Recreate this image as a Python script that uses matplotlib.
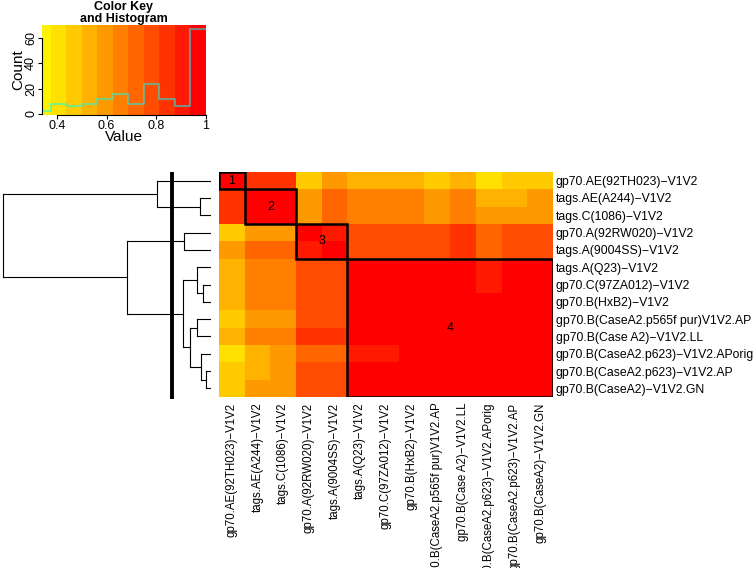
import numpy as np
import matplotlib
matplotlib.use('Agg')
import matplotlib.pyplot as plt
from matplotlib.colors import ListedColormap, BoundaryNorm
from matplotlib.patches import Rectangle

plt.rcParams['font.family'] = ['Liberation Sans', 'DejaVu Sans']

labels = ['gp70.AE(92TH023)\u2212V1V2',
          'tags.AE(A244)\u2212V1V2',
          'tags.C(1086)\u2212V1V2',
          'gp70.A(92RW020)\u2212V1V2',
          'tags.A(9004SS)\u2212V1V2',
          'tags.A(Q23)\u2212V1V2',
          'gp70.C(97ZA012)\u2212V1V2',
          'gp70.B(HxB2)\u2212V1V2',
          'gp70.B(CaseA2.p565f pur)V1V2.AP',
          'gp70.B(Case A2)\u2212V1V2.LL',
          'gp70.B(CaseA2.p623)\u2212V1V2.APorig',
          'gp70.B(CaseA2.p623)\u2212V1V2.AP',
          'gp70.B(CaseA2)\u2212V1V2.GN']

# similarity matrix (rows/cols in dendrogram order)
sim = np.array([
    [1.00, .84, .84, .47, .59, .53, .53, .53, .47, .53, .41, .47, .47],
    [.84, 1.00, .97, .60, .72, .66, .66, .66, .59, .66, .56, .55, .59],
    [.84, .97, 1.00, .60, .72, .66, .66, .66, .59, .66, .58, .59, .59],
    [.47, .60, .60, 1.00, .91, .78, .78, .78, .78, .84, .72, .78, .78],
    [.59, .72, .72, .91, 1.00, .78, .78, .78, .78, .84, .72, .78, .78],
    [.53, .66, .66, .78, .78, 1.00, .98, .97, .96, .97, .91, .97, .96],
    [.53, .66, .66, .78, .78, .98, 1.00, .99, .96, .97, .91, .97, .96],
    [.53, .66, .66, .78, .78, .97, .99, 1.00, .96, .97, .96, .97, .96],
    [.47, .59, .59, .78, .78, .96, .96, .96, 1.00, .98, .96, .96, .97],
    [.53, .66, .66, .84, .84, .97, .97, .97, .98, 1.00, .96, .97, .96],
    [.41, .56, .58, .72, .72, .91, .91, .96, .96, .96, 1.00, .97, .97],
    [.47, .55, .59, .78, .78, .97, .97, .97, .96, .97, .97, 1.00, .99],
    [.47, .59, .59, .78, .78, .96, .96, .96, .97, .96, .97, .99, 1.00]])

breaks = np.linspace(0.3125, 1.0, 12)
colors = ['#FFF200', '#FFE000', '#FFCA00', '#FFB200', '#FF9900', '#FF7F00',
          '#FF6600', '#FF4C00', '#FF3300', '#FF1900', '#FF0000']
hist_counts = [2, 8, 6, 8, 12, 16, 8, 24, 12, 6, 67]

# row dendrogram: (height, left, right)
tree = (1.0,
        (0.258, 0, (0.048, 1, 2)),
        (0.400, (0.124, 3, 4),
         (0.132, (0.061, 5, (0.035, 6, 7)),
          (0.097, (0.061, 8, 9), (0.045, 10, (0.021, 11, 12))))))
cut_height = 0.185
clusters = [1, 2, 2, 3, 3, 4, 4, 4, 4, 4, 4, 4, 4]

n = len(labels)
cmap = ListedColormap(colors).with_extremes(over=colors[-1], under=colors[0])
norm = BoundaryNorm(breaks, cmap.N)

fig = plt.figure(figsize=(7.54, 5.68), dpi=100)
W, H = 754.0, 568.0

# heatmap
ax = fig.add_axes([219 / W, 1 - 397 / H, 334 / W, 225 / H])
ax.imshow(sim, cmap=cmap, norm=norm, aspect='auto', interpolation='nearest')
for c in sorted(set(clusters)):
    idx = [i for i, k in enumerate(clusters) if k == c]
    lo, size = min(idx), len(idx)
    ax.add_patch(Rectangle((lo - 0.5, lo - 0.5), size, size, fill=False,
                           ec='black', lw=1.8))
    ax.text(lo - 0.5 + size / 2, lo - 0.5 + size / 2, str(c), ha='center',
            va='center', fontsize=9)
ax.set_xticks(range(n))
ax.set_xticklabels(labels, rotation=90, fontsize=8.3)
ax.yaxis.tick_right()
ax.set_yticks(range(n))
ax.set_yticklabels(labels, fontsize=8.8)
ax.tick_params(length=0)
ax.tick_params(axis='x', pad=4)
ax.tick_params(axis='y', pad=2)
for s in ax.spines.values():
    s.set_visible(False)

# dendrogram
axd = fig.add_axes([0, 1 - 397 / H, 217 / W, 225 / H])


def draw(node):
    if not isinstance(node, tuple):
        return float(node), 0.0
    h, left, right = node
    ys = []
    for child in (left, right):
        y, ch = draw(child)
        axd.plot([h, ch], [y, y], color='black', lw=0.8)
        ys.append(y)
    axd.plot([h, h], ys, color='black', lw=0.8)
    return sum(ys) / 2, h


draw(tree)
axd.vlines(cut_height, -0.5, n - 0.4, color='black', lw=2.8, clip_on=False)
axd.set_xlim(1.016, -0.034)
axd.set_ylim(n - 0.5, -0.5)
axd.axis('off')

# color key
axk = fig.add_axes([42 / W, 1 - 115 / H, 164 / W, 90 / H])
ymax = max(hist_counts) / 0.95
axk.pcolormesh(breaks, [-1, ymax], np.array([(breaks[:-1] + breaks[1:]) / 2]),
               cmap=cmap, norm=norm)
axk.step(breaks, hist_counts + [hist_counts[-1]], where='post', color='cyan',
         alpha=0.5, lw=1.5)
axk.set_xlim(0.34, 1.0)
axk.set_ylim(-1, ymax)
axk.set_xticks([0.4, 0.6, 0.8, 1.0])
axk.set_xticklabels(['0.4', '0.6', '0.8', '1'], fontsize=9)
axk.set_yticks([0, 20, 40, 60])
axk.set_yticklabels(['0', '20', '40', '60'], fontsize=9, rotation=90,
                    va='center')
axk.tick_params(length=3, width=0.8, pad=0.5)
axk.spines['top'].set_visible(False)
axk.spines['right'].set_visible(False)
axk.spines['left'].set_bounds(0, 60)
axk.spines['bottom'].set_bounds(0.4, 1.0)
axk.spines['left'].set_linewidth(0.8)
axk.spines['bottom'].set_linewidth(0.8)
axk.set_xlabel('Value', fontsize=11, labelpad=-1)
axk.set_ylabel('Count', fontsize=11, labelpad=0)
axk.set_title('Color Key\nand Histogram', fontsize=9, fontweight='bold',
              linespacing=1.0, pad=-2)

fig.savefig('out.png', dpi=100)
